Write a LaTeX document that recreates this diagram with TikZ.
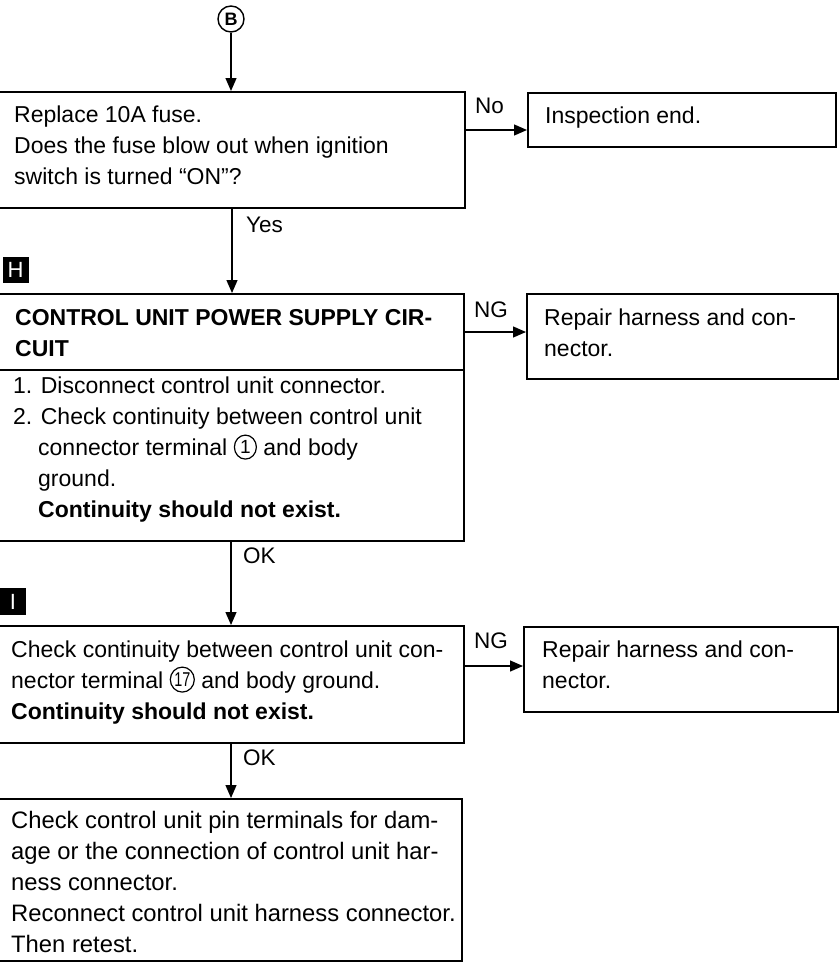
\documentclass[tikz,border=0pt]{standalone}
\usepackage{fontspec}
\setmainfont{Liberation Sans}
\usetikzlibrary{arrows.meta,shapes.geometric}
\newcommand\fl{\rule{0pt}{17pt}}
\newcommand\circnum[4]{\raisebox{-4.5pt}{\tikz{\node[ellipse,draw,line width=1.2pt,inner sep=0pt,minimum width=#3,minimum height=#4] (#2) at (0,0) {#1};}}}
\begin{document}
\begin{tikzpicture}[x=1pt,y=-1pt,
  box/.style={draw, line width=1.6pt, inner sep=0pt, anchor=north west},
  txt/.style={inner sep=0pt, anchor=north west, align=left, font=\fontsize{23}{31}\selectfont},
  lbl/.style={inner sep=0pt, anchor=base west, font=\fontsize{22.5}{31}\selectfont},
  arr/.style={line width=1.3pt, -{Triangle[length=13pt,width=11pt]}},
  marker/.style={fill=black, inner sep=0pt, text=white, font=\fontsize{22}{22}\selectfont}]
\useasboundingbox (0,0) rectangle (839,974);
% start circle
\node[circle, draw, line width=1.4pt, inner sep=0pt, minimum size=26pt, font=\bfseries\fontsize{18}{18}\selectfont] (B) at (231,19) {B};
% boxes
\node[box, minimum width=466pt, minimum height=116pt] (b1) at (-2,91) {};
\node[box, minimum width=308pt, minimum height=54pt] (ie) at (527,92) {};
\node[box, minimum width=465pt, minimum height=76pt] (bHt) at (-2,293) {};
\node[box, minimum width=465pt, minimum height=171pt] (bHb) at (-2,369) {};
\node[box, minimum width=311pt, minimum height=85pt] (r1) at (526,293) {};
\node[box, minimum width=465pt, minimum height=117pt] (bI) at (-2,625) {};
\node[box, minimum width=314pt, minimum height=85pt] (r2) at (523,626) {};
\node[box, minimum width=463pt, minimum height=162pt] (bL) at (-2,798) {};
% markers
\node[marker, minimum width=26pt, minimum height=26pt] (mH) at (15.5,269.5) {H};
\node[marker, minimum width=26pt, minimum height=27pt] (mI) at (13,601.5) {I};
% texts
\node[txt] (t1) at (14,105) {\fl Replace 10A fuse.\\Does the fuse blow out when ignition\\switch is turned “ON”?};
\node[txt] (tie) at (545,106) {\fl Inspection end.};
\node[txt, font=\bfseries\fontsize{23}{31}\selectfont] (tHt) at (15,308) {\fl CONTROL UNIT POWER SUPPLY CIR-\\CUIT};
\node[txt] (tHb) at (13,376) {\fl 1. Disconnect control unit connector.\\
2. Check continuity between control unit\\
\hspace*{25pt}connector terminal \circnum{\fontsize{19}{19}\selectfont 1}{cn1}{22pt}{24pt} and body\\
\hspace*{25pt}ground.\\
\hspace*{25pt}\textbf{Continuity should not exist.}};
\node[txt] (tr1) at (544,308) {\fl Repair harness and con-\\nector.};
\node[txt] (tI) at (11,640) {\fl Check continuity between control unit con-\\nector terminal \circnum{\scalebox{0.72}[1]{\fontsize{20}{20}\selectfont 17}}{cn17}{24pt}{25pt} and body ground.\\\textbf{Continuity should not exist.}};
\node[txt] (tr2) at (542,640) {\fl Repair harness and con-\\nector.};
\node[txt, font=\fontsize{23.8}{31}\selectfont] (tL) at (11,811) {\fl Check control unit pin terminals for dam-\\age or the connection of control unit har-\\ness connector.\\Reconnect control unit harness connector.\\Then retest.};
% connector coordinates
\coordinate (a1) at (231,91);
\coordinate (y0) at (232,207);
\coordinate (y1) at (232,293);
\coordinate (o0) at (231,540);
\coordinate (o1) at (231,625);
\coordinate (p0) at (231,742);
\coordinate (p1) at (231,798);
\coordinate (n0) at (464,130);
\coordinate (n1) at (527,130);
\coordinate (g0) at (463,332);
\coordinate (g1) at (526,332);
\coordinate (h0) at (463,666);
\coordinate (h1) at (523,666);
% connectors
\draw[arr] (B.south) -- (a1);
\draw[arr] (y0) -- (y1);
\draw[arr] (o0) -- (o1);
\draw[arr] (p0) -- (p1);
\draw[arr] (n0) -- (n1);
\draw[arr] (g0) -- (g1);
\draw[arr] (h0) -- (h1);
% labels
\node[lbl] (lno) at (475,113) {No};
\node[lbl] (lyes) at (246,232) {Yes};
\node[lbl] (lng1) at (474,317) {NG};
\node[lbl] (lok1) at (243,563) {OK};
\node[lbl] (lng2) at (474,648) {NG};
\node[lbl] (lok2) at (243,765) {OK};
\end{tikzpicture}
\end{document}
